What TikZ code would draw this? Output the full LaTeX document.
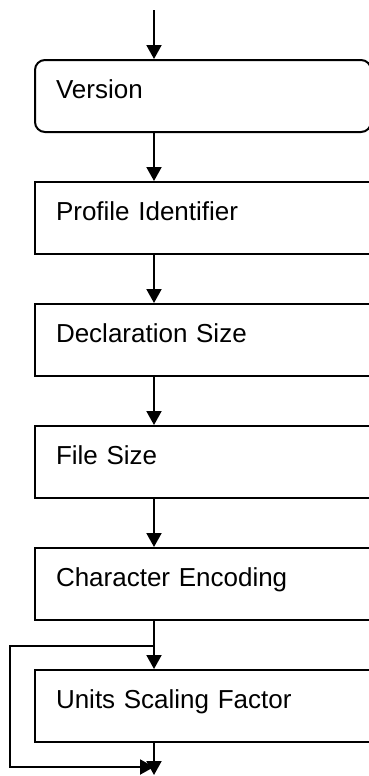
\documentclass[tikz,border=0pt]{standalone}
\usepackage{fontspec}
\setmainfont{Liberation Sans}
\usetikzlibrary{positioning, arrows.meta, calc}

\tikzset{
    field/.style={draw, line width=1pt, rectangle, anchor=north west,
        text width=147pt, align=left, inner xsep=10.5pt, inner ysep=0pt,
        text height=19pt, text depth=17pt,
        font=\fontsize{13}{15}\selectfont},
    first/.style={field, rounded corners=5pt},
    flow/.style={line width=1pt, -{Triangle[length=7pt,width=7.5pt]}}
}

\begin{document}
\begin{tikzpicture}
    \useasboundingbox (0,0) rectangle (184.5pt,-388pt);
    \coordinate (spine) at (77pt,0);
    \coordinate (loopx) at (5pt,0);
    \coordinate (start) at (77pt,-5pt);
    \coordinate (end) at (77pt,-387.5pt);

    \node[first] (ver) at (17pt,-29.5pt) {Version};
    \node[field, below=24pt of ver.south west, anchor=north west] (pid) {Profile Identifier};
    \node[field, below=24pt of pid.south west, anchor=north west] (dsz) {Declaration Size};
    \node[field, below=24pt of dsz.south west, anchor=north west] (fsz) {File Size};
    \node[field, below=24pt of fsz.south west, anchor=north west] (enc) {Character Encoding};
    \node[field, below=24pt of enc.south west, anchor=north west] (usf) {Units Scaling Factor};

    \coordinate (split) at ($(usf.north -| spine)+(0,11.5pt)$);
    \coordinate (merge) at ($(usf.south -| spine)+(0,-12pt)$);

    \draw[flow] (start) -- (ver.north -| spine);
    \draw[flow] (ver.south -| spine) -- (pid.north -| spine);
    \draw[flow] (pid.south -| spine) -- (dsz.north -| spine);
    \draw[flow] (dsz.south -| spine) -- (fsz.north -| spine);
    \draw[flow] (fsz.south -| spine) -- (enc.north -| spine);
    \draw[flow] (enc.south -| spine) -- (usf.north -| spine);
    \draw[flow] (usf.south -| spine) -- (end);
    \draw[flow] (split) -- (split -| loopx) -- (merge -| loopx) -- (merge);
\end{tikzpicture}
\end{document}
